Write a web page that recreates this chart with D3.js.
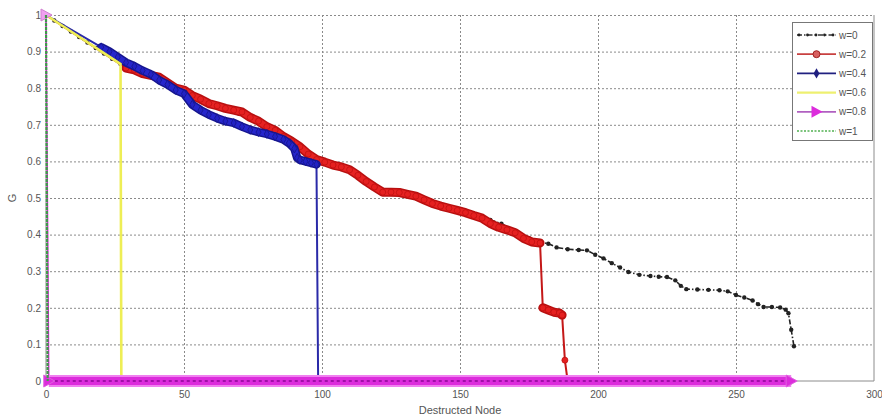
<!DOCTYPE html>
<html>
<head>
<meta charset="utf-8">
<script src="https://cdn.jsdelivr.net/npm/d3@7"></script>
<style>
  html, body { margin: 0; padding: 0; background: #fff; }
  svg { display: block; font-family: "Liberation Sans", Arial, sans-serif; }
</style>
</head>
<body>
<svg id="chart" width="882" height="420"></svg>
<script>
// ---------- data ----------
const xTicks = [0, 50, 100, 150, 200, 250, 300];
const yTicks = [0, 0.1, 0.2, 0.3, 0.4, 0.5, 0.6, 0.7, 0.8, 0.9, 1];
const yTickLabels = ["0", "0.1", "0.2", "0.3", "0.4", "0.5", "0.6", "0.7", "0.8", "0.9", "1"];
const seriesNames = ["w=0", "w=0.2", "w=0.4", "w=0.6", "w=0.8", "w=1"];

// w = 0
const w0Nodes = [0,3,6,9,12,15,18,21,24,27,30,40,50,60,70,80,90,100,110,120,130,140,150,156,161,165,170,175,179,182,185,189,193,196,199,202,205,208,211,215,219,222,225,228,230,232,236,240,244,247,250,253,256,258,260,263,266,268,269,270,271];
const w0Vals  = [1,0.985,0.97,0.955,0.94,0.925,0.91,0.895,0.88,0.866,0.86,0.83,0.79,0.76,0.73,0.69,0.65,0.60,0.58,0.53,0.51,0.49,0.465,0.45,0.44,0.43,0.41,0.39,0.38,0.375,0.365,0.36,0.358,0.357,0.345,0.335,0.322,0.31,0.298,0.29,0.287,0.285,0.284,0.275,0.26,0.251,0.25,0.249,0.248,0.245,0.235,0.228,0.22,0.21,0.202,0.202,0.201,0.195,0.185,0.14,0.095];

// w = 0.2
const w02Nodes = [0,29,32,35,38,41,44,47,50,53,56,59,62,65,68,71,74,77,80,83,86,89,92,95,98,101,104,107,110,113,116,119,122,125,128,131,134,137,140,143,146,149,152,155,158,161,164,167,170,173,176,179,180,182,184,186,187,188,189];
const w02Vals  = [1,0.855,0.85,0.84,0.835,0.83,0.815,0.80,0.795,0.78,0.77,0.758,0.752,0.745,0.74,0.735,0.72,0.71,0.695,0.685,0.668,0.655,0.64,0.62,0.605,0.598,0.59,0.585,0.577,0.562,0.545,0.53,0.516,0.516,0.515,0.51,0.505,0.495,0.485,0.478,0.472,0.466,0.46,0.452,0.445,0.43,0.42,0.413,0.405,0.39,0.38,0.377,0.20,0.194,0.188,0.186,0.18,0.057,0];

// w = 0.4
const w04Nodes = [0,20,23,26,29,32,35,38,41,44,47,50,53,56,59,62,65,68,71,74,77,80,83,86,88,90,91,92,94,96,98,98.6];
const w04Vals  = [1,0.912,0.9,0.885,0.87,0.86,0.848,0.838,0.822,0.81,0.795,0.785,0.755,0.74,0.728,0.718,0.71,0.705,0.695,0.686,0.68,0.675,0.668,0.66,0.65,0.635,0.61,0.604,0.6,0.596,0.592,0];

// w = 0.6
const w06Nodes = [0, 27, 27.3];
const w06Vals  = [1, 0.866, 0];

// w = 0.8
const w08Nodes = [0, 1, 270];
const w08Vals  = [1, 0, 0];

// w = 1
const w1Nodes = [0, 0.6];
const w1Vals  = [1, 0];

// ---------- layout ----------
const svg = d3.select("#chart");
const x = d3.scaleLinear().domain([0, 300]).range([46, 874]);
const y = d3.scaleLinear().domain([0, 1]).range([381, 15]);
const zip = (n, v) => n.map((d, i) => ({ n: d, g: v[i] }));
const line = d3.line().x(d => x(d.n)).y(d => y(d.g));

// split a series into runs of densely-marked points (no big jumps)
function denseRuns(data) {
  const out = []; let cur = [];
  for (let i = 0; i < data.length; i++) {
    if (cur.length) {
      const p = cur[cur.length - 1], q = data[i];
      const dense = (q.n - p.n) <= 4 && Math.abs(q.g - p.g) < 0.05;
      if (!dense) { if (cur.length > 1) out.push(cur); cur = []; }
    }
    cur.push(data[i]);
  }
  if (cur.length > 1) out.push(cur);
  return out;
}

// grid
const gridColor = "#8a8a8a";
const gx = svg.append("g").attr("transform", `translate(0,${y(0)})`)
  .call(d3.axisBottom(x).tickValues(xTicks.slice(1, -1)).tickSize(-(y(0) - y(1))).tickFormat(""));
gx.select(".domain").remove();
gx.selectAll("line").attr("stroke", gridColor).attr("stroke-dasharray", "2,2");
const gy = svg.append("g").attr("transform", `translate(${x(0)},0)`)
  .call(d3.axisLeft(y).tickValues(yTicks.slice(1)).tickSize(-(x(300) - x(0))).tickFormat(""));
gy.select(".domain").remove();
gy.selectAll("line").attr("stroke", gridColor).attr("stroke-dasharray", "2,2");

// box (left, bottom, right)
svg.append("path")
  .attr("d", `M${x(0)},${y(1)}V${y(0)}H${x(300)}V${y(1)}`)
  .attr("fill", "none").attr("stroke", "#8c8c8c").attr("stroke-width", 1);

// tick labels
const ax = svg.append("g").attr("transform", `translate(0,${y(0)})`)
  .call(d3.axisBottom(x).tickValues(xTicks).tickSize(0).tickPadding(10).tickFormat(d => String(d)));
ax.select(".domain").remove();
ax.selectAll("text").attr("font-size", 10).attr("fill", "#555").attr("font-family", "Liberation Sans, Arial, sans-serif");

const ay = svg.append("g").attr("transform", `translate(${x(0)},0)`)
  .call(d3.axisLeft(y).tickValues(yTicks).tickSize(0).tickPadding(5).tickFormat((d, i) => yTickLabels[i]));
ay.select(".domain").remove();
ay.selectAll("text").attr("font-size", 10).attr("fill", "#555").attr("font-family", "Liberation Sans, Arial, sans-serif");

// axis titles
svg.append("text").attr("x", (x(0) + x(300)) / 2).attr("y", 414)
  .attr("text-anchor", "middle").attr("font-size", 11).attr("fill", "#555").text("Destructed Node");
svg.append("text").attr("transform", `translate(16,${(y(0) + y(1)) / 2}) rotate(-90)`)
  .attr("text-anchor", "middle").attr("font-size", 11).attr("fill", "#555").text("G");

const plot = svg.append("g");

// ---- w=0 : black dash-dot with dots
const d0 = zip(w0Nodes, w0Vals);
plot.append("path").datum(d0).attr("d", line).attr("fill", "none")
  .attr("stroke", "#222").attr("stroke-width", 1.6).attr("stroke-dasharray", "5,2,1.5,2");
plot.selectAll(".m0").data(d0).join("circle").attr("class", "m0")
  .attr("cx", d => x(d.n)).attr("cy", d => y(d.g)).attr("r", 2.2).attr("fill", "#222");

// band helper: thin connecting line + thick band along densely-marked runs
function band(data, thin, edge, fill, wEdge, wFill) {
  plot.append("path").datum(data).attr("d", line).attr("fill", "none")
    .attr("stroke", thin).attr("stroke-width", 2);
  denseRuns(data).forEach(run => {
    plot.append("path").datum(run).attr("d", line).attr("fill", "none")
      .attr("stroke", edge).attr("stroke-width", wEdge)
      .attr("stroke-linejoin", "round").attr("stroke-linecap", "round");
    plot.append("path").datum(run).attr("d", line).attr("fill", "none")
      .attr("stroke", fill).attr("stroke-width", wFill)
      .attr("stroke-linejoin", "round").attr("stroke-linecap", "round");
  });
}

// ---- w=0.2 : red band of circle markers
const d02 = zip(w02Nodes, w02Vals);
band(d02, "#c41818", "#b81010", "#e62222", 9, 6);
plot.selectAll(".m02").data(d02.slice(1, -1)).join("circle").attr("class", "m02")
  .attr("cx", d => x(d.n)).attr("cy", d => y(d.g)).attr("r", 3)
  .attr("fill", "#e52020").attr("stroke", "#c01010").attr("stroke-width", 0.8);

// ---- w=0.4 : blue band of markers
const d04 = zip(w04Nodes, w04Vals);
band(d04, "#2a2aa8", "#16168e", "#2626cc", 8.5, 5.5);
plot.selectAll(".m04").data(d04.slice(1, -1)).join("path").attr("class", "m04")
  .attr("transform", d => `translate(${x(d.n)},${y(d.g)})`)
  .attr("d", d3.symbol(d3.symbolDiamond, 22))
  .attr("fill", "#2222c4").attr("stroke", "#15158c").attr("stroke-width", 0.8);

// ---- w=0.6 : yellow
const d06 = zip(w06Nodes, w06Vals);
plot.append("path").datum(d06).attr("d", line).attr("fill", "none")
  .attr("stroke", "#eeee55").attr("stroke-width", 2.6);

// ---- w=0.8 : magenta band with triangles
const d08 = zip(w08Nodes, w08Vals);
plot.append("path").datum(d08).attr("d", line).attr("fill", "none")
  .attr("stroke", "#d020d0").attr("stroke-width", 1.5);
const zeroRun = d08.filter(d => d.g === 0);
plot.append("path").datum(zeroRun).attr("d", line).attr("fill", "none")
  .attr("stroke", "#f080f0").attr("stroke-width", 12);
plot.append("path").datum(zeroRun).attr("d", line).attr("fill", "none")
  .attr("stroke", "#dc2cdc").attr("stroke-width", 8);
plot.append("path").datum(zeroRun).attr("d", line).attr("fill", "none")
  .attr("stroke", "#a010a8").attr("stroke-width", 2).attr("stroke-dasharray", "3,3");
const tri = "M-5,-6L6,0L-5,6Z";
plot.selectAll(".m08").data(d08).join("path").attr("class", "m08")
  .attr("transform", d => `translate(${x(d.n)},${y(d.g)})`)
  .attr("d", tri)
  .attr("fill", (d, i) => i === 0 ? "#f0a0f0" : "#dc2cdc")
  .attr("stroke", (d, i) => i === 0 ? "#d080d0" : "#e060e0").attr("stroke-width", 1);

// ---- w=1 : green dotted
const d1 = zip(w1Nodes, w1Vals);
plot.append("path").datum(d1).attr("d", line).attr("fill", "none")
  .attr("stroke", "#3f9a4a").attr("stroke-width", 2.2).attr("stroke-dasharray", "3,1");

// ---------- legend ----------
const lg = svg.append("g");
lg.append("rect").attr("x", 792.5).attr("y", 22.5).attr("width", 80).attr("height", 118)
  .attr("fill", "#fff").attr("stroke", "#777").attr("stroke-width", 1);
const rowY = i => 35 + i * 19.2;
const lx1 = 797, lx2 = 836, lmid = (lx1 + lx2) / 2;
const styles = [
  { c: "#333", w: 1.6, dash: "5,2,1.5,2" },
  { c: "#c84040", w: 1.8 },
  { c: "#202080", w: 1.8 },
  { c: "#eef070", w: 2.2 },
  { c: "#b060c0", w: 1.8 },
  { c: "#7cc47c", w: 1.8, dash: "2,1.5" }
];
seriesNames.forEach((name, i) => {
  const s = styles[i];
  const yy = rowY(i);
  lg.append("line").attr("x1", lx1).attr("x2", lx2).attr("y1", yy).attr("y2", yy)
    .attr("stroke", s.c).attr("stroke-width", s.w).attr("stroke-dasharray", s.dash || null);
  lg.append("text").attr("x", 839).attr("y", yy).attr("dy", "0.35em")
    .attr("font-size", 10).attr("fill", "#555").text(name);
});
lg.append("circle").attr("cx", lmid).attr("cy", rowY(1)).attr("r", 3.5)
  .attr("fill", "#d86060").attr("stroke", "#a02020");
lg.append("path").attr("transform", `translate(${lmid},${rowY(2)})`)
  .attr("d", d3.symbol(d3.symbolDiamond, 30)).attr("fill", "#202080");
lg.append("path").attr("transform", `translate(${lmid},${rowY(4)})`)
  .attr("d", tri).attr("fill", "#dc2cdc");
[0, 1, 2, 3, 4].forEach(k => {
  lg.append("circle").attr("cx", lx1 + 2 + k * 8.5).attr("cy", rowY(0)).attr("r", 1.4).attr("fill", "#222");
});
</script>
</body>
</html>
